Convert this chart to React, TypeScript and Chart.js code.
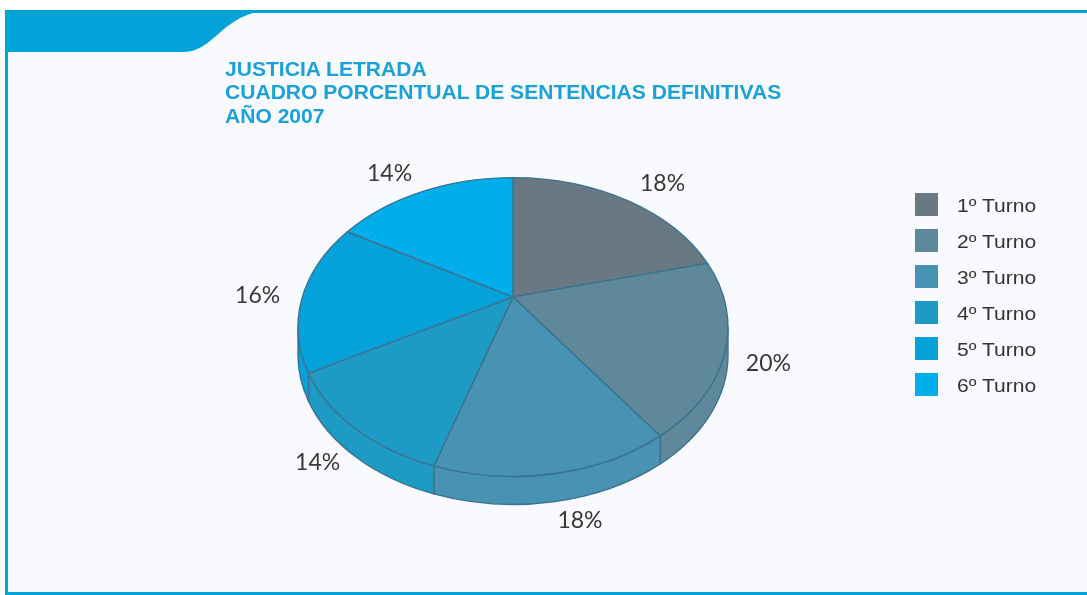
import React, { useEffect, useRef } from "react";
import { Chart, registerables } from "chart.js";

Chart.register(...registerables);

const titleLines = [
  "JUSTICIA LETRADA",
  "CUADRO PORCENTUAL DE SENTENCIAS DEFINITIVAS",
  "AÑO 2007",
];
const categories = ["1º Turno", "2º Turno", "3º Turno", "4º Turno", "5º Turno", "6º Turno"];
const percentages = [18, 20, 18, 14, 16, 14];
const sliceColors = ["#687984", "#5f889b", "#4892b3", "#1e9bc5", "#05a1d9", "#00aeeb"];

const W = 1087;
const H = 595;
const BLUE = "#00a3d9";
const EDGE = "#3a7390";

const frame = {
  id: "frame",
  beforeDraw(chart: any) {
    const ctx = chart.ctx;
    ctx.save();
    ctx.fillStyle = "#ffffff";
    ctx.fillRect(0, 0, W, H);
    ctx.fillStyle = "#f8fafd";
    ctx.fillRect(5, 10, W - 5, H - 10);
    ctx.fillStyle = BLUE;
    ctx.fillRect(5, 10, W - 5, 3);
    ctx.fillRect(5, 10, 3, H - 10);
    ctx.fillRect(5, H - 3, W - 5, 3);
    ctx.beginPath();
    ctx.moveTo(5, 10);
    ctx.lineTo(5, 52);
    ctx.lineTo(184, 52);
    ctx.bezierCurveTo(214, 52, 224, 12, 268, 11);
    ctx.lineTo(268, 10);
    ctx.closePath();
    ctx.fill();
    ctx.restore();
  },
};

const RY_RATIO = 0.695;
const HUB_SHIFT = 0.14;
const DEPTH_RATIO = 0.13;

const pie3d = {
  id: "pie3d",
  beforeDatasetsDraw(chart: any) {
    const meta = chart.getDatasetMeta(0);
    const arcs = meta.data;
    if (!arcs || !arcs.length) return false;
    const ctx = chart.ctx;
    const cx = arcs[0].x;
    const cy = arcs[0].y;
    const rx = arcs[0].outerRadius;
    const ry = rx * RY_RATIO;
    const hubY = cy - rx * HUB_SHIFT;
    const depth = rx * DEPTH_RATIO;
    const ds = chart.data.datasets[0];
    const colors = ds.backgroundColor as string[];
    const TWO = Math.PI * 2;

    ctx.save();
    ctx.lineWidth = 1.4;
    ctx.strokeStyle = EDGE;
    ctx.lineJoin = "round";

    // side walls (front half)
    arcs.forEach((arc: any, i: number) => {
      const s = arc.startAngle;
      const e = arc.endAngle;
      for (const off of [-TWO, 0, TWO]) {
        const lo = Math.max(s, off);
        const hi = Math.min(e, off + Math.PI);
        if (hi > lo) {
          ctx.beginPath();
          ctx.ellipse(cx, cy, rx, ry, 0, lo - off, hi - off);
          ctx.ellipse(cx, cy + depth, rx, ry, 0, hi - off, lo - off, true);
          ctx.closePath();
          ctx.fillStyle = colors[i];
          ctx.fill();
          ctx.stroke();
        }
      }
    });

    // top faces
    arcs.forEach((arc: any, i: number) => {
      ctx.beginPath();
      ctx.moveTo(cx, hubY);
      ctx.ellipse(cx, cy, rx, ry, 0, arc.startAngle, arc.endAngle);
      ctx.closePath();
      ctx.fillStyle = colors[i];
      ctx.fill();
      ctx.stroke();
    });

    // labels
    ctx.fillStyle = "#383838";
    ctx.font = "23px Lato, 'Open Sans', sans-serif";
    ctx.textBaseline = "middle";
    arcs.forEach((arc: any, i: number) => {
      const mid = (arc.startAngle + arc.endAngle) / 2;
      const c = Math.cos(mid);
      const sn = Math.sin(mid);
      const x = cx + (rx + 22) * c;
      const y = cy + (ry + 20) * sn + depth * Math.max(sn, 0);
      ctx.textAlign = c > 0.1 ? "left" : c < -0.1 ? "right" : "center";
      ctx.fillText(`${ds.data[i]}%`, x, y);
    });
    ctx.restore();
    return false;
  },
};

export default function App() {
  const ref = useRef<HTMLCanvasElement | null>(null);
  useEffect(() => {
    if (!ref.current) return;
    const chart = new Chart(ref.current, {
      type: "pie",
      data: {
        labels: categories,
        datasets: [
          {
            data: percentages,
            backgroundColor: sliceColors,
            borderWidth: 0,
          },
        ],
      },
      options: {
        responsive: false,
        animation: false,
        devicePixelRatio: 1,
        layout: { padding: { left: 298, right: 359, top: 112, bottom: 53 } },
        plugins: {
          legend: { display: false },
          tooltip: { enabled: false },
          title: { display: false },
        },
      },
      plugins: [frame, pie3d],
    });
    return () => chart.destroy();
  }, []);

  return (
    <div style={{ position: "fixed", left: 0, top: 0, width: W, height: H, overflow: "hidden" }}>
      <canvas ref={ref} width={W} height={H} style={{ display: "block", width: W, height: H }} />
      <div
        style={{
          position: "absolute",
          left: 225,
          top: 58,
          fontFamily: "'Liberation Sans', Arial, sans-serif",
          fontWeight: 700,
          fontSize: "19.5px",
          lineHeight: "23.3px",
          color: "#1ba0d8",
          transform: "scaleX(1.08)",
          transformOrigin: "left top",
          whiteSpace: "nowrap",
        }}
      >
        {titleLines.map((t) => (
          <div key={t}>{t}</div>
        ))}
      </div>
      <div style={{ position: "absolute", left: 915, top: 193 }}>
        {categories.map((c, i) => (
          <div key={c} style={{ position: "relative", height: 36 }}>
            <div style={{ position: "absolute", left: 0, top: 0, width: 23, height: 23, background: sliceColors[i] }} />
            <div
              style={{
                position: "absolute",
                left: 42,
                top: 2,
                height: 23,
                lineHeight: "23px",
                fontFamily: "'Liberation Sans', Arial, sans-serif",
                fontSize: "18px",
                color: "#333333",
                whiteSpace: "nowrap",
                transform: "scaleX(1.17)",
                transformOrigin: "left center",
              }}
            >
              {c}
            </div>
          </div>
        ))}
      </div>
    </div>
  );
}
